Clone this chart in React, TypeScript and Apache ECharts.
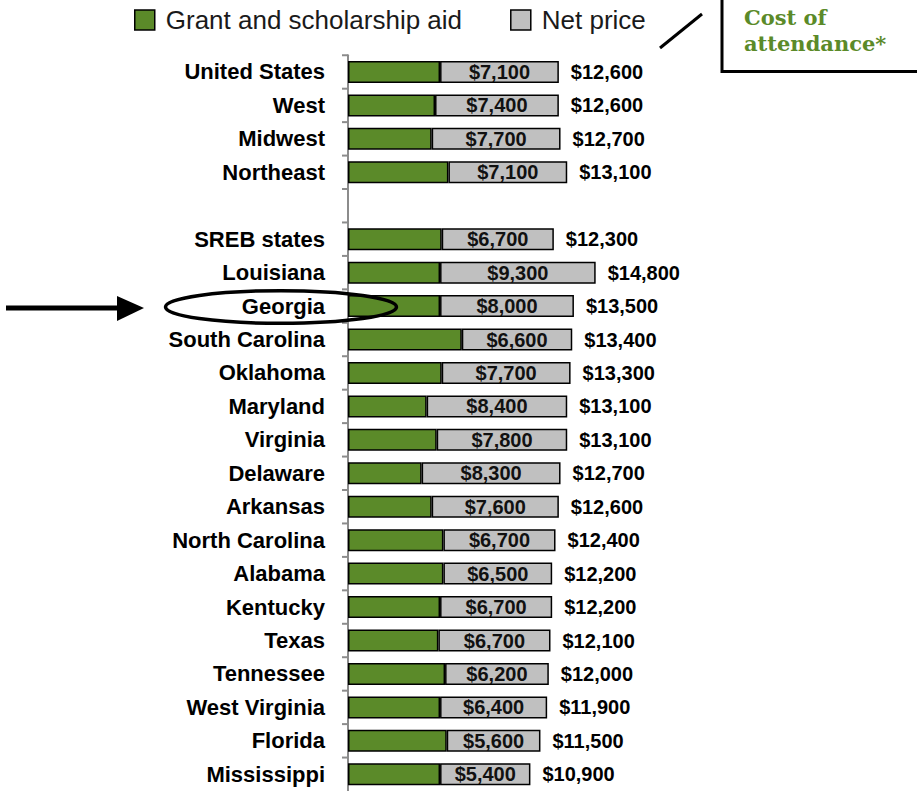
import React, { useEffect, useRef } from "react";
import * as echarts from "echarts";

const categories = [
  "United States", "West", "Midwest", "Northeast", "",
  "SREB states", "Louisiana", "Georgia", "South Carolina", "Oklahoma",
  "Maryland", "Virginia", "Delaware", "Arkansas", "North Carolina",
  "Alabama", "Kentucky", "Texas", "Tennessee", "West Virginia",
  "Florida", "Mississippi",
];
const grantAid: (number | null)[] = [
  5500, 5200, 5000, 6000, null,
  5600, 5500, 5500, 6800, 5600,
  4700, 5300, 4400, 5000, 5700,
  5700, 5500, 5400, 5800, 5500,
  5900, 5500,
];
const netPrice: (number | null)[] = [
  7100, 7400, 7700, 7100, null,
  6700, 9300, 8000, 6600, 7700,
  8400, 7800, 8300, 7600, 6700,
  6500, 6700, 6700, 6200, 6400,
  5600, 5400,
];
const totalCost: (number | null)[] = [
  12600, 12600, 12700, 13100, null,
  12300, 14800, 13500, 13400, 13300,
  13100, 13100, 12700, 12600, 12400,
  12200, 12200, 12100, 12000, 11900,
  11500, 10900,
];

const fmt = (v: number) => "$" + v.toLocaleString("en-US");

export default function App() {
  const ref = useRef<HTMLDivElement>(null);
  useEffect(() => {
    if (!ref.current) return;
    const chart = echarts.init(ref.current, undefined, { renderer: "svg" });
    const GREEN = "#5B8A29";
    const GRAY = "#C0C0C0";
    chart.setOption({
      animation: false,
      backgroundColor: "#ffffff",
      textStyle: { fontFamily: "Liberation Sans, Arial, sans-serif" },
      legend: {
        data: ["Grant and scholarship aid", "Net price"],
        left: 129,
        top: 2,
        itemWidth: 20,
        itemHeight: 20,
        itemGap: 48,
        icon: "rect",
        textStyle: {
          fontSize: 26,
          color: "#1a1a1a",
          fontFamily: "Liberation Sans, Arial, sans-serif",
          padding: [0, 0, 0, 6],
        },
        itemStyle: { borderColor: "#000", borderWidth: 1.5 },
      },
      grid: { left: 348, top: 55.25, width: 569, height: 738, containLabel: false },
      xAxis: { type: "value", min: 0, max: 34000, show: false },
      yAxis: {
        type: "category",
        data: categories,
        inverse: true,
        boundaryGap: true,
        axisLine: { show: true, onZero: false, lineStyle: { color: "#8c8c8c", width: 2 } },
        axisTick: { show: false },
        axisLabel: {
          interval: 0,
          margin: 23,
          fontSize: 22,
          fontWeight: "bold",
          color: "#000",
          fontFamily: "Liberation Sans, Arial, sans-serif",
        },
        splitLine: { show: false },
      },
      series: [
        {
          name: "Grant and scholarship aid",
          type: "bar",
          stack: "total",
          barWidth: 22,
          data: grantAid.map((v) => (v == null ? "-" : v)),
          itemStyle: { color: GREEN, borderColor: "#000", borderWidth: 1.5 },
        },
        {
          name: "Net price",
          type: "bar",
          stack: "total",
          barWidth: 22,
          data: netPrice.map((v) => (v == null ? "-" : v)),
          itemStyle: { color: GRAY, borderColor: "#000", borderWidth: 1.5 },
          label: {
            show: true,
            position: "inside",
            fontSize: 20,
            fontWeight: "bold",
            color: "#111",
            fontFamily: "Liberation Sans, Arial, sans-serif",
            formatter: (p: any) => fmt(p.value),
          },
        },
        {
          name: "Cost",
          type: "scatter",
          symbolSize: 0,
          itemStyle: { color: "#000", opacity: 1 },
          data: totalCost.map((v, i) => (v == null ? null : [v, i])).filter((d) => d),
          label: {
            show: true,
            position: "right",
            distance: 12,
            fontSize: 20,
            fontWeight: "bold",
            color: "#000",
            opacity: 1,
            fontFamily: "Liberation Sans, Arial, sans-serif",
            formatter: (p: any) => fmt(p.value[0]),
          },
          z: 5,
        },
        {
          name: "ticks",
          type: "custom",
          clip: false,
          silent: true,
          data: categories.map((_, i) => [0, i]),
          renderItem: (params: any, api: any) => {
            const pt = api.coord([0, api.value(1)]);
            const band = api.size([0, 1])[1];
            const y = pt[1] - band / 2;
            return {
              type: "line",
              shape: { x1: pt[0] - 6, y1: y, x2: pt[0], y2: y },
              style: { stroke: "#8c8c8c", lineWidth: 2 },
            };
          },
          z: 3,
        },
      ],
      graphic: [
        {
          type: "rect",
          shape: { x: 722, y: -10, width: 230, height: 81.5 },
          style: { fill: "#fff", stroke: "#000", lineWidth: 3 },
          z: 50,
        },
        {
          type: "text",
          x: 744,
          y: 4,
          style: {
            text: "Cost of\nattendance*",
            fill: GREEN,
            font: "bold 21px 'DejaVu Serif', 'Liberation Serif', serif",
            lineHeight: 26,
          },
          z: 51,
        },
        {
          type: "line",
          shape: { x1: 660, y1: 48, x2: 702, y2: 14 },
          style: { stroke: "#000", lineWidth: 3 },
          z: 50,
        },
        {
          type: "line",
          shape: { x1: 6, y1: 308, x2: 120, y2: 308 },
          style: { stroke: "#000", lineWidth: 5 },
          z: 50,
        },
        {
          type: "polygon",
          shape: { points: [[117, 296], [144, 308], [117, 321]] },
          style: { fill: "#000" },
          z: 50,
        },
        {
          type: "ellipse",
          shape: { cx: 281, cy: 307, rx: 115.5, ry: 16.3 },
          style: { fill: "none", stroke: "#000", lineWidth: 3.5 },
          z: 100,
        },
      ],
    });
    return () => chart.dispose();
  }, []);
  return (
    <div
      ref={ref}
      style={{ position: "absolute", left: 0, top: 0, width: 917, height: 791 }}
    />
  );
}
